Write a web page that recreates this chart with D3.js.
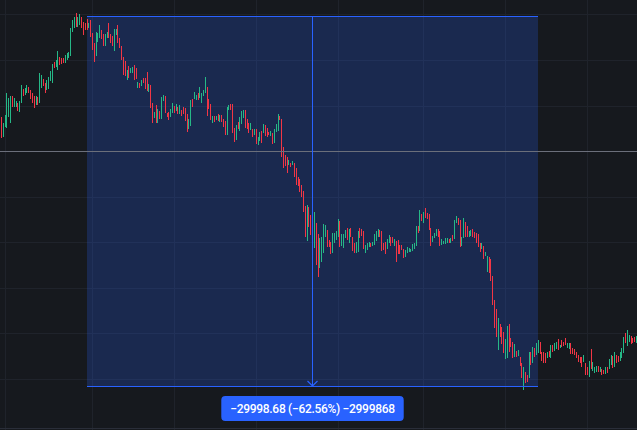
<!DOCTYPE html>
<html>
<head>
<meta charset="utf-8">
<script src="https://cdn.jsdelivr.net/npm/d3@7/dist/d3.min.js"></script>
<style>
  html, body { margin: 0; padding: 0; background: #16191e; overflow: hidden; }
  svg { display: block; }
</style>
</head>
<body>
<div id="chart"></div>
<script>
// =======================
// CANDLES + MEASURE TOOL
// =======================

const width = 637, height = 430;

// Candle bodies (open / close), one per bar
const opens = [
  39773,38153,38963,38882,39773,39287,41474,40583,40583,40907,
  40178,40907,42041,41555,41717,42203,41960,41717,41474,40745,
  41393,40907,42122,42851,42527,41960,42041,42689,42527,44228,
  43823,43580,44633,44552,44552,44147,44390,44552,44714,46658,
  46982,48197,47063,47225,47873,47468,47387,47711,46982,47630,
  46577,45767,44714,45848,46172,46820,46496,45524,46172,47387,
  46496,46334,45119,46415,47225,46172,45524,44633,44309,42770,
  43904,43337,43337,43985,43742,42122,42527,42284,42932,42932,
  43418,41798,42365,40907,39692,40745,39287,40259,39611,41069,
  41474,40097,40178,39773,40097,40664,40259,40583,40016,40340,
  40583,40502,40016,38801,39044,41231,41231,41150,41717,41312,
  40907,41474,41717,42203,41231,40826,39287,39854,39530,40016,
  39368,39935,39611,39449,38315,40340,40826,40826,38882,37910,
  39368,38639,39206,39692,40340,39611,39287,38720,38801,38315,
  38801,
  37505,37829,38639,38477,39125,38882,38558,38234,38477,37667,
  38558,38639,39854,39611,37343,36695,36533,35885,36047,35885,
  36047,35642,34913,34751,34265,33779,32564,29729,32483,31835,
  31997,29162,31187,30296,27542,28028,28757,30053,30620,29810,
  29648,28757,29567,29810,30053,31349,29324,29162,29972,30782,
  29567,30782,30053,29567,28757,28838,30782,30701,30539,28757,
  29000,29243,29567,29324,29405,29729,30053,30620,30539,
  29567,29648,29081,29567,30053,30053,29324,29729,29810,29405,
  29405,29081,28433,28757,28838,28838,28919,29081,29324,30944,
  30539,31916,31187,32402,31997,31916,30782,29648,29972,30134,
  30701,30539,29405,29486,29486,29567,29891,29567,30215,29891,
  31187,31592,31430,29324,29972,31268,30944,30053,30134,30701,
  30458,30377,30296,29567,29081,29324,28514,27218,28433,28271,
  26894,24950,24221,20900,23006,22763,22358,20171,20252,23006,
  21872,21548,
  20333,20819,20414,20333,19847,17660,19118,18875,18632,20738,
  19847,21062,20495,20657,21548,20738,20738,20657,20252,20819,
  20252,21305,20819,20981,21791,21062,21710,21548,21872,21062,
  20981,21467,21062,20981,20738,20495,20333,20333,19928,19847,
  19523,18713,20981,19199,19037,19118,19604,19118,19361,19280,
  18956,19523,19361,19685,20414,19523,20495,20414,20009,20252,
  20657,22277,21224,21548,22034,21872,21953,21467
];

const closes = [
  38072,39287,39935,41717,41312,41474,40583,41312,41069,40259,
  41069,42365,41474,42122,42365,41717,41231,40907,40502,41474,
  40745,43337,43175,42284,41717,42770,43013,43499,44066,43742,
  44390,45119,43985,44066,44147,44795,44957,45038,46982,47630,
  47873,47063,47873,48116,46982,46415,46820,46820,47387,46253,
  45200,44228,46658,46577,47225,46091,45524,46496,46658,46172,
  45767,45524,46901,46901,45767,45362,44390,43175,43094,43580,
  42932,43742,43823,42770,42851,42608,42122,42770,42527,42041,
  41879,42446,40502,39287,40178,39287,40421,39611,41393,41555,
  40097,39773,39530,40421,40907,40097,40826,40016,40745,39854,
  40016,39449,38558,39611,41150,40583,41798,41555,41150,42203,
  41717,41960,43013,39854,40421,39530,39854,39368,39854,39449,
  39935,39368,38963,38315,40583,40745,40340,38477,37748,39125,
  38801,39773,40259,40340,38882,38801,38477,39287,38153,38801,
  37586,
  38153,38558,37667,39206,38234,38153,38315,38639,37586,38801,
  39206,40016,39530,36533,35642,35804,35237,36290,35723,36209,
  34913,34265,34184,33698,33293,32078,30053,32645,30863,30215,
  30377,32078,27785,26813,29972,30053,31106,31025,29243,29243,
  28676,30377,30377,30539,31511,29243,30296,30296,30620,29810,
  30701,30053,28919,28757,29648,30539,29972,30134,29081,29405,
  29567,29648,29243,29648,30296,30539,30701,30053,28919,
  29000,28676,29891,30215,29324,29567,29891,28028,28676,28676,
  29000,28352,29000,29243,29162,29081,29486,29567,30944,30377,
  32240,31349,32078,31592,31511,30620,29324,30134,30377,30701,
  30053,29324,29891,29729,29972,29972,29567,29972,29729,31430,
  31754,31025,29243,30053,31592,30053,30053,30539,30620,30053,
  29972,29567,29243,28838,29567,28271,28838,28514,27137,26489,
  24545,22682,21953,23492,21953,21386,20657,21791,22844,20738,
  21143,20252,
  21386,20333,20900,19604,18632,19523,18227,18308,20738,19685,
  21143,20333,21467,21710,20576,20009,19847,19847,20738,20333,
  21305,20738,21467,21548,20900,21305,21143,21224,21305,21467,
  21467,20576,20576,20495,20252,19928,19847,19523,20495,18875,
  18875,20009,19361,19928,19523,19604,19118,19523,18875,18956,
  19523,19037,20171,20495,19442,20738,19847,19928,20738,21062,
  21953,21467,22520,22115,21386,21467,21548,22034
];

// Grid (time ticks as bar indexes, price levels)
const timeGrid = [2, 50, 95, 140, 185, 232, 277, 322];
const priceGrid = [48090, 44400, 40700, 37010, 33320, 29620, 25930, 22240, 18540];
const crosshairPrice = 37010;

// Measure tool: from / to (bar index, price)
const measureFrom = { i: 47.3, price: 47951.36 };
const measureTo = { i: 295.1, price: 17952.68 };
const measureLabel = "\u221229998.68 (\u221262.56%) \u22122999868";

const n = Math.min(opens.length, closes.length);
const candles = d3.range(n).map(i => ({ i, o: opens[i], c: closes[i] }));

// Scales
const x = d3.scaleLinear().domain([0, n - 1]).range([1, 636]);
const y = d3.scaleLinear().domain([14420, 49250]).range([height, 0]);
const px = v => Math.round(v) + 0.5;

const svg = d3.select("#chart")
  .append("svg")
    .attr("width", width)
    .attr("height", height);

svg.append("rect")
  .attr("width", width)
  .attr("height", height)
  .attr("fill", "#16191e");

// Grid lines
svg.append("g")
  .selectAll("line")
  .data(timeGrid)
  .enter()
  .append("line")
    .attr("x1", d => px(x(d))).attr("x2", d => px(x(d)))
    .attr("y1", 0).attr("y2", height)
    .attr("stroke", "#1f232b");

svg.append("g")
  .selectAll("line")
  .data(priceGrid)
  .enter()
  .append("line")
    .attr("x1", 0).attr("x2", width)
    .attr("y1", d => px(y(d))).attr("y2", d => px(y(d)))
    .attr("stroke", "#1f232b");

// Bottom pane border
svg.append("line")
  .attr("x1", 0).attr("x2", width)
  .attr("y1", 428.5).attr("y2", 428.5)
  .attr("stroke", "#2a2e39");

// Measure area
const mx0 = x(measureFrom.i), mx1 = x(measureTo.i);
const my0 = Math.round(y(measureFrom.price)), my1 = Math.round(y(measureTo.price));
const mxc = Math.floor((mx0 + mx1) / 2) + 0.5;

svg.append("rect")
  .attr("x", Math.round(mx0))
  .attr("y", my0)
  .attr("width", Math.round(mx1) - Math.round(mx0))
  .attr("height", my1 - my0)
  .attr("fill", "rgba(41,98,255,0.22)");

// Candles
svg.append("g")
  .attr("shape-rendering", "crispEdges")
  .selectAll("rect")
  .data(candles)
  .enter()
  .append("rect")
    .attr("x", d => Math.round(x(d.i)))
    .attr("width", 1)
    .attr("y", d => Math.round(y(Math.max(d.o, d.c))))
    .attr("height", d => Math.max(1, Math.round(y(Math.min(d.o, d.c))) - Math.round(y(Math.max(d.o, d.c)))))
    .attr("fill", d => d.c >= d.o ? "#26b887" : "#f23645");

// Crosshair horizontal
svg.append("line")
  .attr("x1", 0).attr("x2", width)
  .attr("y1", px(y(crosshairPrice))).attr("y2", px(y(crosshairPrice)))
  .attr("stroke", "#6b6f7b");

// Measure lines
const blue = "#2962ff";
[my0, my1].forEach(v => {
  svg.append("line")
    .attr("x1", Math.round(mx0)).attr("x2", Math.round(mx1))
    .attr("y1", v + 0.5).attr("y2", v + 0.5)
    .attr("stroke", blue);
});

svg.append("line")
  .attr("x1", mxc).attr("x2", mxc)
  .attr("y1", my0).attr("y2", my1)
  .attr("stroke", blue);

svg.append("path")
  .attr("d", `M${mxc - 5},${my1 - 5}L${mxc},${my1}L${mxc + 5},${my1 - 5}`)
  .attr("fill", "none")
  .attr("stroke", blue)
  .attr("stroke-width", 1.2);

// Label
const label = svg.append("g");
const labelBox = label.append("rect")
  .attr("fill", blue)
  .attr("rx", 4);
const labelText = label.append("text")
  .attr("x", mxc)
  .attr("y", my1 + 27)
  .attr("text-anchor", "middle")
  .attr("fill", "#ffffff")
  .style("font-family", "Roboto, 'Noto Sans', sans-serif")
  .style("font-size", "12px")
  .style("font-weight", 500)
  .style("letter-spacing", "-0.3px")
  .text(measureLabel);

const tw = labelText.node().getComputedTextLength();
labelBox
  .attr("x", mxc - tw / 2 - 9)
  .attr("y", my1 + 10)
  .attr("width", tw + 18)
  .attr("height", 25);
</script>
</body>
</html>
